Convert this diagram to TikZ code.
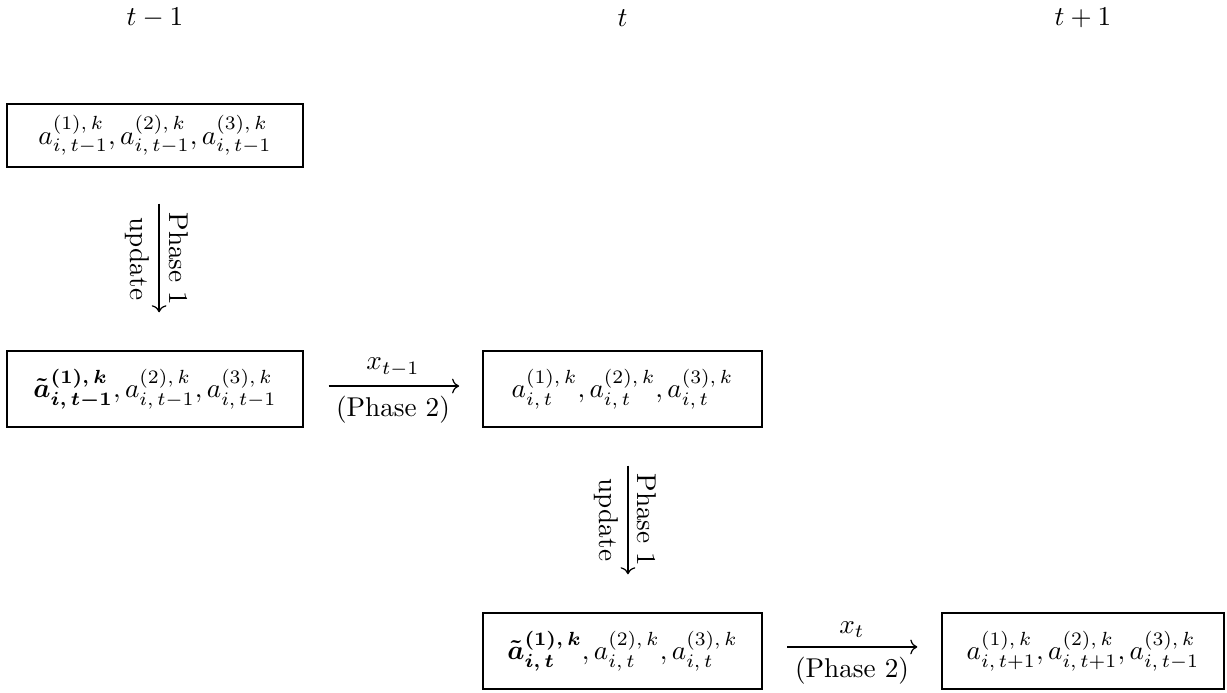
\documentclass[tikz,border=0pt]{standalone}
\usepackage{amsmath}
\usetikzlibrary{arrows.meta}
% script comma with a little room after it
\newcommand{\scomma}{,\,}
\begin{document}
\begin{tikzpicture}[x=0.3676pt,y=-0.3676pt,
  state/.style={draw,line width=0.5pt,rectangle,inner sep=0pt,
    minimum width=#1},
  rowtop/.style={minimum height=23.2pt},
  rowlow/.style={minimum height=27.9pt},
  flow/.style={->,line width=0.45pt}]
\useasboundingbox (0,0) rectangle (1227,692);

% time step headers
\node (h0) at (155,18) {$t-1$};
\node (h1) at (622.5,18) {$t$};
\node (h2) at (1083,18) {$t+1$};

% states
\node[state=108.8pt,rowtop] (a0) at (155,135.5)
  {$a^{(1)\scomma k}_{i\scomma t-1}, a^{(2)\scomma k}_{i\scomma t-1}, a^{(3)\scomma k}_{i\scomma t-1}$};
\node[state=108.8pt,rowlow] (u0) at (155,389)
  {$\boldsymbol{\tilde{a}^{(1)\scomma k}_{i\scomma t-1}}, a^{(2)\scomma k}_{i\scomma t-1}, a^{(3)\scomma k}_{i\scomma t-1}$};
\node[state=102.6pt,rowlow] (a1) at (622.5,389)
  {$a^{(1)\scomma k}_{i\scomma t}, a^{(2)\scomma k}_{i\scomma t}, a^{(3)\scomma k}_{i\scomma t}$};
\node[state=102.6pt,rowlow] (u1) at (622.5,651)
  {$\boldsymbol{\tilde{a}^{(1)\scomma k}_{i\scomma t}}, a^{(2)\scomma k}_{i\scomma t}, a^{(3)\scomma k}_{i\scomma t}$};
\node[state=103.7pt,rowlow] (a2) at (1083,651)
  {$a^{(1)\scomma k}_{i\scomma t+1}, a^{(2)\scomma k}_{i\scomma t+1}, a^{(3)\scomma k}_{i\scomma t-1}$};

% phase 1: update
\draw[flow,shorten <=13.2pt,shorten >=14pt]
  ([xshift=1.5pt]a0.south) -- ([xshift=1.5pt]u0.north)
  node[midway,sloped,above] {Phase 1}
  node[midway,sloped,below] {update};
\draw[flow,shorten <=14pt,shorten >=14pt]
  ([xshift=2pt]a1.south) -- ([xshift=2pt]u1.north)
  node[midway,sloped,above] {Phase 1}
  node[midway,sloped,below] {update};

% phase 2: observation
\draw[flow,shorten <=9.2pt,shorten >=8.5pt]
  ([yshift=1.1pt]u0.east) -- ([yshift=1.1pt]a1.west)
  node[midway,above] {$x_{t-1}$}
  node[midway,below] {(Phase 2)};
\draw[flow,shorten <=9pt,shorten >=8.8pt]
  ([yshift=1.5pt]u1.east) -- ([yshift=1.5pt]a2.west)
  node[midway,above] {$x_{t}$}
  node[midway,below] {(Phase 2)};
\end{tikzpicture}
\end{document}
